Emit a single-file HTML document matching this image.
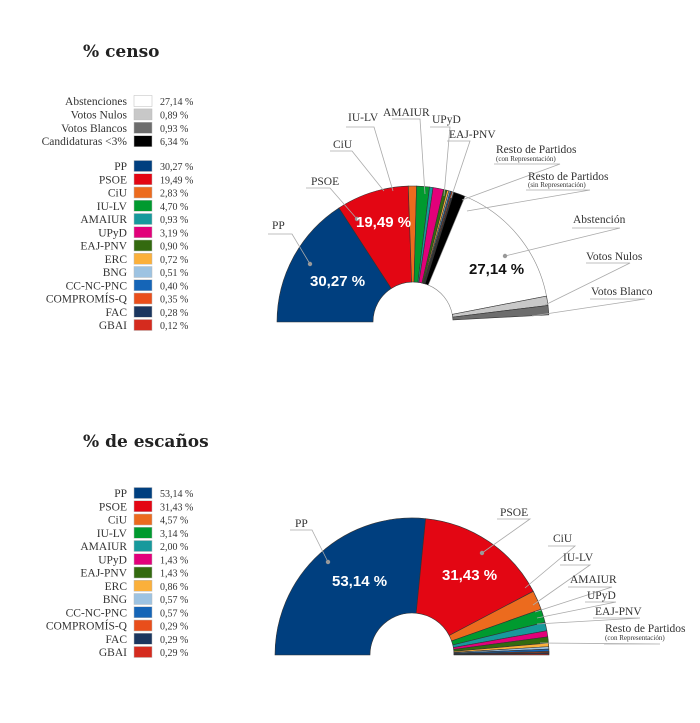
<!DOCTYPE html>
<html><head><meta charset="utf-8"><style>
body{margin:0;background:#fff;width:700px;height:723px;overflow:hidden}
svg{display:block}
.l{font-family:"Liberation Serif",serif;font-size:11.5px;fill:#333}
.s{font-family:"Liberation Serif",serif;font-size:7px;fill:#333}
.v{font-family:"Liberation Serif",serif;font-size:10px;fill:#333}
.t{font-family:"DejaVu Serif",serif;font-size:17px;font-weight:bold;fill:#222}
.p{font-family:"Liberation Sans",sans-serif;font-size:15px;font-weight:bold}
</style></head><body>
<svg id="s" width="700" height="723" viewBox="0 0 700 723">
<text class="t" x="83" y="57">% censo</text>
<text class="t" x="83" y="447">% de escaños</text>
<g id="leg"></g>
<g id="c1"></g><g id="c2"></g>
<g stroke="#aaa" stroke-width="0.8" fill="none">
<path d="M268 234H292L310 264"/><path d="M306 188H330L357 219"/><path d="M330 151H352L384 191"/>
<path d="M346 127H374L393 191"/><path d="M392 119H420L425 194"/><path d="M430 127H450L444 196"/>
<path d="M447 141H470L451 198"/><path d="M494 164H560L462 200"/><path d="M526 190H590L467 211"/>
<path d="M572 228H620L505 256"/><path d="M586 263H630L545 305"/><path d="M590 299H645L532 316"/>
<path d="M290 530H312L328 562"/><path d="M497 519H530L482 553"/><path d="M548 546H575L525 588"/>
<path d="M560 565H590L533 605"/><path d="M568 587H612L535 612"/><path d="M585 602H616L537 618"/>
<path d="M593 618H640L537 624"/><path d="M604 644H660L540 643"/>
</g>
<g fill="#999"><circle cx="310" cy="264" r="2.2"/><circle cx="357" cy="219" r="2.2"/><circle cx="505" cy="256" r="2.2"/><circle cx="328" cy="562" r="2.2"/><circle cx="482" cy="553" r="2.2"/></g>
<g class="l">
<text x="272" y="229">PP</text><text x="311" y="185">PSOE</text><text x="333" y="148">CiU</text>
<text x="348" y="121">IU-LV</text><text x="383" y="116">AMAIUR</text><text x="432" y="123">UPyD</text>
<text x="449" y="138">EAJ-PNV</text><text x="496" y="153">Resto de Partidos</text><text x="528" y="180">Resto de Partidos</text>
<text x="573" y="223">Abstención</text><text x="586" y="260">Votos Nulos</text><text x="591" y="295">Votos Blanco</text>
<text x="295" y="527">PP</text><text x="500" y="516">PSOE</text><text x="553" y="542">CiU</text>
<text x="563" y="561">IU-LV</text><text x="570" y="583">AMAIUR</text><text x="587" y="599">UPyD</text>
<text x="595" y="615">EAJ-PNV</text><text x="605" y="632">Resto de Partidos</text>
</g>
<g class="s"><text x="496" y="161">(con Representación)</text><text x="528" y="187">(sin Representación)</text><text x="605" y="640">(con Representación)</text></g>
<text class="p" x="310" y="286" fill="#fff">30,27 %</text>
<text class="p" x="356" y="227" fill="#fff">19,49 %</text>
<text class="p" x="469" y="274" fill="#111">27,14 %</text>
<text class="p" x="332" y="586" fill="#fff">53,14 %</text>
<text class="p" x="442" y="580" fill="#fff">31,43 %</text>
</svg>
<script>
const NS="http://www.w3.org/2000/svg";
function wedge(g,cx,cy,R,r,a0,a1,col,st){
 const rad=a=>a*Math.PI/180;
 const p=(rr,a)=>[cx+rr*Math.cos(rad(a)),cy-rr*Math.sin(rad(a))];
 const [x0,y0]=p(R,a0),[x1,y1]=p(R,a1),[x2,y2]=p(r,a1),[x3,y3]=p(r,a0);
 const e=document.createElementNS(NS,"path");
 e.setAttribute("d",`M${x0} ${y0}A${R} ${R} 0 0 1 ${x1} ${y1}L${x2} ${y2}A${r} ${r} 0 0 0 ${x3} ${y3}Z`);
 e.setAttribute("fill",col);e.setAttribute("stroke",st||"#333");e.setAttribute("stroke-width","0.6");
 document.getElementById(g).appendChild(e);
}
function chart(g,cx,cy,R,r,list){let a=180;for(const [d,c,st] of list){wedge(g,cx,cy,R,r,a,a-d,c,st);a-=d;}}
chart("c1",413,322,136,40,[[57,"#003f7f"],[31,"#e30613"],[3.5,"#ec6b1e"],[5.5,"#009a2f"],[1.5,"#17999c"],[4.5,"#e2007a"],[1.5,"#336a0f"],[0.8,"#fbb03b"],[0.6,"#9dc3e2"],[0.5,"#1565b7"],[0.5,"#e94e1b"],[0.4,"#1b365f"],[0.2,"#d52b1e"],[5,"#000"],[56.5,"#fff","#888"],[4,"#c8c8c8"],[4,"#6d6d6d"]]);
chart("c2",412,655,137,42,[[95.7,"#003f7f"],[56.6,"#e30613"],[8.2,"#ec6b1e"],[5.7,"#009a2f"],[3.6,"#17999c"],[2.6,"#e2007a"],[2.6,"#336a0f"],[1.5,"#fbb03b"],[1,"#9dc3e2"],[1,"#1565b7"],[0.5,"#e94e1b"],[0.5,"#1b365f"],[0.5,"#d52b1e"]]);
const parties=[["PP","#003f7f"],["PSOE","#e30613"],["CiU","#ec6b1e"],["IU-LV","#009a2f"],["AMAIUR","#17999c"],["UPyD","#e2007a"],["EAJ-PNV","#336a0f"],["ERC","#fbb03b"],["BNG","#9dc3e2"],["CC-NC-PNC","#1565b7"],["COMPROMÍS-Q","#e94e1b"],["FAC","#1b365f"],["GBAI","#d52b1e"]];
const leg=document.getElementById("leg");
function row(y,name,col,val){
 leg.insertAdjacentHTML("beforeend",`<text class="l" x="127" y="${y+4}" text-anchor="end">${name}</text><rect x="134" y="${y-5.5}" width="18" height="11" fill="${col}" stroke="#bbb" stroke-width="0.5"/><text class="v" x="160" y="${y+4}">${val}</text>`);
}
[["Abstenciones","#fff","27,14 %"],["Votos Nulos","#c8c8c8","0,89 %"],["Votos Blancos","#6d6d6d","0,93 %"],["Candidaturas &lt;3%","#000","6,34 %"]].forEach((d,i)=>row(101+i*13.4,...d));
const v1=["30,27 %","19,49 %","2,83 %","4,70 %","0,93 %","3,19 %","0,90 %","0,72 %","0,51 %","0,40 %","0,35 %","0,28 %","0,12 %"];
const v2=["53,14 %","31,43 %","4,57 %","3,14 %","2,00 %","1,43 %","1,43 %","0,86 %","0,57 %","0,57 %","0,29 %","0,29 %","0,29 %"];
parties.forEach((p,i)=>{row(166+i*13.25,p[0],p[1],v1[i]);row(493+i*13.25,p[0],p[1],v2[i]);});
</script>
</body></html>
